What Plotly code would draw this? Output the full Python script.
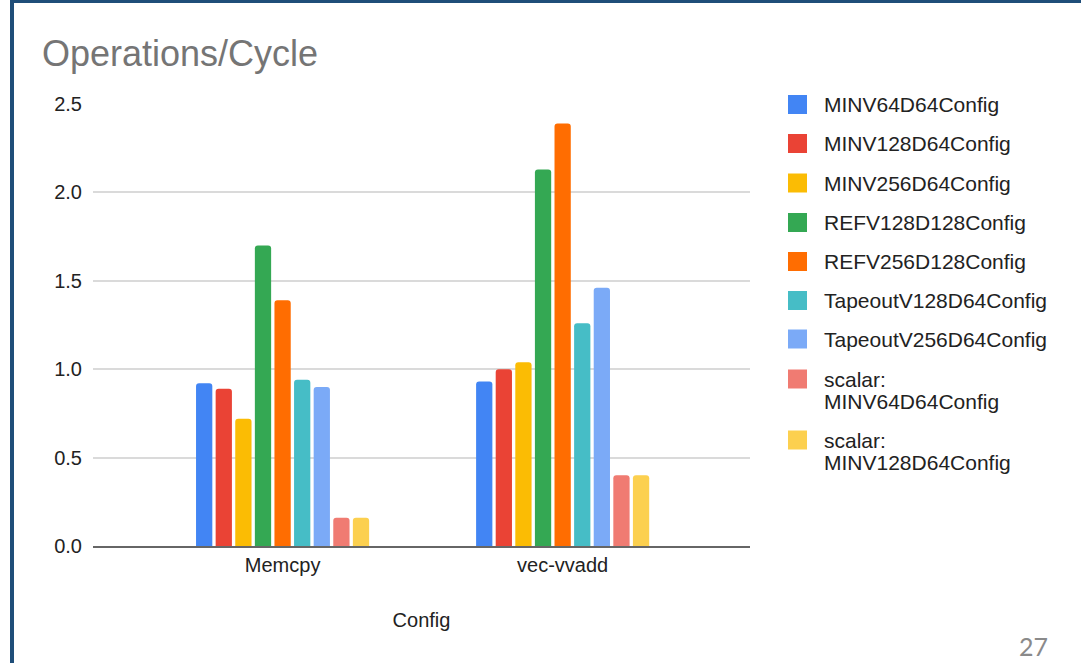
import plotly.graph_objects as go

# Benchmarks on the category axis
categories = ["Memcpy", "vec-vvadd"]

# Operations per cycle for each configuration
series_names = [
    "MINV64D64Config",
    "MINV128D64Config",
    "MINV256D64Config",
    "REFV128D128Config",
    "REFV256D128Config",
    "TapeoutV128D64Config",
    "TapeoutV256D64Config",
    "scalar: MINV64D64Config",
    "scalar: MINV128D64Config",
]
minv64 = [0.92, 0.93]
minv128 = [0.89, 1.00]
minv256 = [0.72, 1.04]
refv128 = [1.70, 2.13]
refv256 = [1.39, 2.39]
tapeout128 = [0.94, 1.26]
tapeout256 = [0.90, 1.46]
scalar_minv64 = [0.16, 0.40]
scalar_minv128 = [0.16, 0.40]

series_values = [minv64, minv128, minv256, refv128, refv256,
                 tapeout128, tapeout256, scalar_minv64, scalar_minv128]

y_ticks = [0.0, 0.5, 1.0, 1.5, 2.0, 2.5]
y_tick_labels = ["0.0", "0.5", "1.0", "1.5", "2.0", "2.5"]

colors = ["#4285F4", "#EA4335", "#FBBC04", "#34A853", "#FF6D01",
          "#46BDC6", "#7BAAF7", "#F07B72", "#FCD04F"]

FONT = "Liberation Sans, Arial, sans-serif"
W, H = 1081, 663
PL, PR, PT, PB = 93, 750, 104, 546  # plot area in pixels


def px(x):
    return (x - PL) / (PR - PL)


def py(y):
    return (PB - y) / (PB - PT)


fig = go.Figure()
for name, vals, col in zip(series_names, series_values, colors):
    fig.add_trace(go.Bar(
        x=categories, y=vals, name=name,
        marker=dict(color=col, line=dict(width=0), cornerradius=3),
        showlegend=False,
    ))

shapes = []
annotations = []

# legend: coloured swatches with labels on the right of the plot
legend_rows = [
    (104.5, ["MINV64D64Config"]),
    (143.5, ["MINV128D64Config"]),
    (183, ["MINV256D64Config"]),
    (222.5, ["REFV128D128Config"]),
    (261.5, ["REFV256D128Config"]),
    (300.5, ["TapeoutV128D64Config"]),
    (339, ["TapeoutV256D64Config"]),
    (379, ["scalar:", "MINV64D64Config"]),
    (440, ["scalar:", "MINV128D64Config"]),
]
for (cy, lines), col in zip(legend_rows, colors):
    shapes.append(dict(
        type="rect", xref="paper", yref="paper",
        x0=px(788), x1=px(807), y0=py(cy - 9.5), y1=py(cy + 9.5),
        fillcolor=col, line=dict(width=0), layer="above",
    ))
    for i, txt in enumerate(lines):
        annotations.append(dict(
            text=txt, xref="paper", yref="paper",
            x=px(822), y=py(cy + i * 22), xanchor="left", yanchor="middle",
            showarrow=False, font=dict(family=FONT, size=21, color="#222222"),
        ))

# slide frame
frame = "#1F4E79"
shapes.append(dict(type="rect", xref="paper", yref="paper",
                   x0=px(10), x1=px(14), y0=py(H + 5), y1=py(0),
                   fillcolor=frame, line=dict(width=0), layer="above"))
shapes.append(dict(type="rect", xref="paper", yref="paper",
                   x0=px(10), x1=px(W + 5), y0=py(3), y1=py(-5),
                   fillcolor=frame, line=dict(width=0), layer="above"))

# slide number
annotations.append(dict(
    text="27", xref="paper", yref="paper", x=px(1033), y=py(646),
    xanchor="center", yanchor="middle", showarrow=False,
    font=dict(family="Lato, Open Sans, sans-serif", size=25, color="#8A8A8A"),
))

fig.update_layout(
    width=W, height=H,
    margin=dict(l=PL, r=W - PR, t=PT, b=H - PB, autoexpand=False),
    paper_bgcolor="white", plot_bgcolor="white",
    barmode="group", bargap=0.37, bargroupgap=0.17,
    title=dict(
        text="Operations/Cycle", xref="container", yref="container",
        x=42 / W, xanchor="left", y=1 - 53 / H, yanchor="middle",
        font=dict(family=FONT, size=36, color="#757575"),
    ),
    font=dict(family=FONT, size=20, color="#222222"),
    shapes=shapes, annotations=annotations,
    showlegend=False,
)
fig.update_xaxes(
    type="category", range=[-0.677, 1.669],
    showgrid=False, showline=True, linecolor="#666666", linewidth=2,
    ticks="", ticklabelstandoff=0,
    tickfont=dict(family=FONT, size=20, color="#222222"),
    title=dict(text="Config", standoff=38,
               font=dict(family=FONT, size=20, color="#222222")),
)
fig.update_yaxes(
    range=[0, 2.5], tickvals=y_ticks, ticktext=y_tick_labels,
    showgrid=True, gridcolor="#DADADA", gridwidth=1.5,
    zeroline=False, showline=False, ticks="", ticklabelstandoff=10,
    tickfont=dict(family=FONT, size=20, color="#222222"),
)

fig.write_html("out.html")
